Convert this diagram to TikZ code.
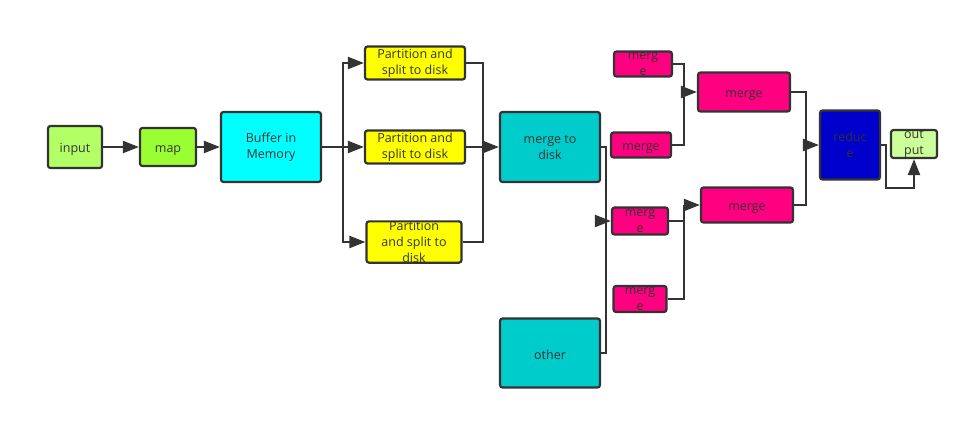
\documentclass[tikz,border=0pt]{standalone}
\usepackage{fontspec}
\setmainfont{Open Sans}
\usetikzlibrary{arrows.meta}
\definecolor{ingreen}{HTML}{B3FF66}
\definecolor{mapgreen}{HTML}{99FF33}
\definecolor{bufcyan}{HTML}{00FFFF}
\definecolor{partyellow}{HTML}{FFFF00}
\definecolor{disktea}{HTML}{00CCCC}
\definecolor{mpink}{HTML}{FF0080}
\definecolor{redblue}{HTML}{0000CC}
\definecolor{outgreen}{HTML}{CCFF99}
\definecolor{ink}{HTML}{333333}
\begin{document}
\begin{tikzpicture}[x=1pt,y=-1pt,
        b/.style={draw=ink, line width=2.2pt, rounded corners=2.5pt,
                        inner sep=0pt, align=center, text=ink,
                        font=\fontsize{12.5}{16}\selectfont,
                        execute at begin node={\rule{0pt}{13.5pt}}},
        l/.style={draw=ink, line width=2.2pt},
        a/.style={l, -{Triangle[length=16pt,width=12pt]}}]
    \useasboundingbox (0,0) rectangle (969,421);
    % map side
    \node[b, fill=ingreen, minimum width=54, minimum height=42] (in) at (75,147) {input};
    \node[b, fill=mapgreen, minimum width=56, minimum height=38] (map) at (168,147) {map};
    \node[b, fill=bufcyan, minimum width=100, minimum height=70] (buf) at (271,147) {Buffer in\\Memory};
    \node[b, fill=partyellow, minimum width=100, minimum height=33] (p1) at (415,63) {Partition and\\split to disk};
    \node[b, fill=partyellow, minimum width=100, minimum height=33] (p2) at (415,147) {Partition and\\split to disk};
    \node[b, fill=partyellow, minimum width=95, minimum height=38] (p3) at (414,242) {Partition\\and split to\\disk};
    \node[b, fill=disktea, minimum width=100, minimum height=70] (disk) at (550,147) {merge to\\disk};
    \node[b, fill=disktea, minimum width=100, minimum height=69] (other) at (550,353) {other};
    % reduce side
    \node[b, fill=mpink, minimum width=58, minimum height=25] (m1) at (643,64) {merg\\e};
    \node[b, fill=mpink, minimum width=60, minimum height=25] (m2) at (641,145) {merge};
    \node[b, fill=mpink, minimum width=56, minimum height=27] (m3) at (640,221) {merg\\e};
    \node[b, fill=mpink, minimum width=53, minimum height=26] (m4) at (640,299) {merg\\e};
    \node[b, fill=mpink, minimum width=92, minimum height=39] (mm1) at (744,92) {merge};
    \node[b, fill=mpink, minimum width=92, minimum height=35] (mm2) at (747,205) {merge};
    \node[b, fill=redblue, minimum width=60, minimum height=69] (red) at (850,145) {reduc\\e};
    \node[b, fill=outgreen, minimum width=46, minimum height=28] (out) at (914,144) {out\\put};
    \coordinate (j1) at (343,147);
    \coordinate (j2) at (483,147);
    \coordinate (j3) at (606,221);
    \coordinate (j4) at (684,92);
    \coordinate (j5) at (684,205);
    \coordinate (j6) at (806,145);
    \draw[a] (in) -- (map);
    \draw[a] (map) -- (buf);
    \draw[l] (buf.east) -- (j1);
    \draw[a] (j1) |- (p1.west);
    \draw[a] (j1) -- (p2.west);
    \draw[a] (j1) |- (p3.west);
    \draw[l] (p1.east) -| (j2);
    \draw[l] (p3.east) -| (j2);
    \draw[a] (p2.east) -- (disk.west);
    \draw[l] (disk.east) -| (j3);
    \draw[l] (other.east) -| (j3);
    \draw[a] (j3) -- (m3.west);
    \draw[l] (m1.east) -| (j4);
    \draw[l] (m2.east) -| (j4);
    \draw[a] (j4) -- (mm1.west);
    \draw[l] (m3.east) -| (j5);
    \draw[l] (m4.east) -| (j5);
    \draw[a] (j5) -- (mm2.west);
    \draw[l] (mm1.east) -| (j6);
    \draw[l] (mm2.east) -| (j6);
    \draw[a] (j6) -- (red.west);
    \draw[a] (red.east) -- ++(5,0) -- ++(0,43) -| (out.south);
\end{tikzpicture}
\end{document}
